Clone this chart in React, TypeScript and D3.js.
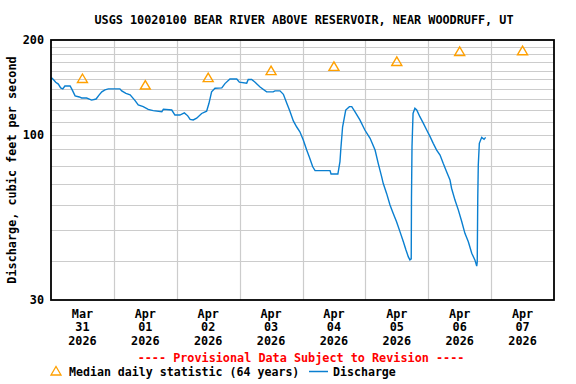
import React from "react";
import * as d3 from "d3";

const TITLE = "USGS 10020100 BEAR RIVER ABOVE RESERVOIR, NEAR WOODRUFF, UT";
const Y_TITLE = "Discharge, cubic feet per second";
const PROVISIONAL = "---- Provisional Data Subject to Revision ----";
const LEGEND_MEDIAN = "Median daily statistic (64 years)";
const LEGEND_Q = "Discharge";

// x-axis categories (one per day, labels centered at noon)
const dayMonths = ["Mar", "Apr", "Apr", "Apr", "Apr", "Apr", "Apr", "Apr"];
const dayNums = ["31", "01", "02", "03", "04", "05", "06", "07"];
const dayYears = ["2026", "2026", "2026", "2026", "2026", "2026", "2026", "2026"];

// y-axis labelled ticks and grid values
const yTickLabels = [200, 100, 30];
const yGridValues = [40, 50, 60, 70, 80, 90, 100, 110, 120, 130, 140, 150, 160, 170, 180, 190];

// median daily statistic, one per day
const medianValues = [151, 144, 152, 160, 165, 171, 184, 185];

// discharge: hours since Mar 31 00:00, and cfs
const qHours = [
  0.1, 0.9, 1.8, 2.8, 3.7, 4.5, 5.3, 7.3, 8.1, 9.2, 10.8, 11.7, 13.6, 15.5, 17.2, 18.4, 19.4, 20.6, 21.9, 26.3,
  27.0, 28.6, 30.2, 32.1, 33.3, 35.2, 37.1, 39.0, 42.3, 42.9, 46.1, 47.3, 49.2, 50.9, 52.2, 53.1, 54.3, 55.6,
  57.5, 59.4, 60.3, 61.3, 62.6, 65.2, 66.4, 68.3, 70.9, 71.9, 74.7, 75.3, 76.6, 77.9, 79.8, 82.3, 84.8, 85.5,
  87.4, 88.7, 90.0, 91.2, 92.5, 93.8, 95.0, 96.3, 97.6, 98.6, 99.9, 100.8, 106.5, 106.9, 109.5, 110.3, 110.6,
  111.3, 112.5, 113.9, 114.8, 116.0, 117.9, 119.8, 121.8, 123.7, 124.9, 126.2, 126.8, 128.1, 129.4, 130.6,
  131.9, 133.2, 134.5, 135.5, 136.4, 137.0, 137.5, 137.6, 137.8, 138.2, 138.9, 139.6, 140.8, 142.1, 143.4,
  144.7, 145.9, 147.2, 148.5, 149.7, 151.0, 152.3, 152.9, 154.2, 155.5, 156.8, 158.0, 159.3, 160.6, 161.8,
  162.5, 162.7, 162.9, 163.1, 163.5, 164.4, 165.3, 165.9,
];
const qValues = [
  152, 150, 147, 145, 141, 140, 143, 143, 139, 133, 132, 131, 131, 129, 130, 134, 137, 139, 140, 140,
  138, 135.5, 134, 128.5, 124.5, 123, 120.6, 119.5, 118.5, 120.6, 120, 115.7, 115.7, 117.5, 115, 112, 111.6, 113,
  117, 119, 126, 137, 140.6, 141, 145.5, 150.5, 150.5, 147, 146, 150, 150, 147, 142, 137, 137, 138,
  138, 134.5, 126, 119, 110.8, 106, 102.4, 96.4, 89.6, 85.2, 79.3, 77.1, 77.1, 75.2, 75.2, 82.3, 89.6,
  106, 120, 123, 123, 118.5, 111.6, 103.7, 97.6, 89.6, 81.3, 73.8, 70.3, 65.3, 60, 56.5,
  53.1, 49.4, 45.9, 43.2, 41.1, 40.2, 40.5, 63, 91.8, 117, 121.5, 120, 114.3, 109, 103.7,
  98.8, 94.1, 89.6, 86.4, 81.3, 76.5, 72, 67.8, 62.2, 57.8, 53.1, 48.8, 45.9, 42.2, 40.2,
  38.4, 39.6, 63, 80.3, 94.1, 98.3, 96.9, 98.3,
];

const W = 576;
const H = 384;
const M = { left: 51, right: 554, top: 40, bottom: 300 };
const FONT = "'DejaVu Sans Mono', 'Liberation Mono', monospace";
const BLUE = "#0a7fd0";
const ORANGE = "#ffa000";

export default function App() {
  const x = d3.scaleLinear().domain([0, 192]).range([M.left, M.right]);
  const y = d3.scaleLog().domain([30, 200]).range([M.bottom, M.top]);

  const pts = qHours.map((h, i) => [h, qValues[i]] as [number, number]);
  const line = d3
    .line<[number, number]>()
    .x((d) => x(d[0]))
    .y((d) => y(d[1]))
    .curve(d3.curveLinear);

  const dayBounds = d3.range(1, 8).map((d) => d * 24);
  const tri = (cx: number, cy: number) =>
    `M${cx - 5},${cy + 4}L${cx},${cy - 4.5}L${cx + 5},${cy + 4}Z`;

  return (
    <svg width={W} height={H} style={{ display: "block", position: "absolute", left: 0, top: 0 }}>
      <rect x={0} y={0} width={W} height={H} fill="#fff" />
      <text x={304} y={24} textAnchor="middle" fontFamily={FONT} fontWeight="bold" fontSize={11.8} fill="#000">
        {TITLE}
      </text>

      {/* horizontal grid */}
      {yGridValues.map((v) => (
        <line key={"h" + v} x1={M.left} x2={M.right} y1={Math.round(y(v)) + 0.5} y2={Math.round(y(v)) + 0.5} stroke="#cccccc" strokeWidth={1.2} />
      ))}
      {/* vertical grid */}
      {dayBounds.map((h) => (
        <line key={"v" + h} x1={Math.round(x(h)) + 0.5} x2={Math.round(x(h)) + 0.5} y1={M.top} y2={M.bottom} stroke="#cccccc" strokeWidth={1.2} />
      ))}

      {/* median triangles */}
      {medianValues.map((v, i) => (
        <path key={"m" + i} d={tri(x(i * 24 + 12), y(v))} fill="none" stroke={ORANGE} strokeWidth={1.4} />
      ))}

      {/* discharge */}
      <path d={line(pts) || ""} fill="none" stroke={BLUE} strokeWidth={1.4} strokeLinejoin="miter" />

      {/* frame */}
      <rect x={M.left} y={M.top} width={M.right - M.left} height={M.bottom - M.top} fill="none" stroke="#000" strokeWidth={1.8} />

      {/* y labels */}
      {yTickLabels.map((v) => (
        <text key={"yl" + v} x={44} y={y(v) + 4} textAnchor="end" fontFamily={FONT} fontWeight="bold" fontSize={11.8} fill="#000">
          {v}
        </text>
      ))}
      <text
        transform={`translate(16,${(M.top + M.bottom) / 2}) rotate(-90)`}
        textAnchor="middle"
        fontFamily={FONT}
        fontWeight="bold"
        fontSize={11.8}
        fill="#000"
      >
        {Y_TITLE}
      </text>

      {/* x labels */}
      {dayMonths.map((m, i) => {
        const cx = x(i * 24 + 12);
        return (
          <g key={"xl" + i} fontFamily={FONT} fontWeight="bold" fontSize={11.8} fill="#000" textAnchor="middle">
            <text x={cx} y={318}>{m}</text>
            <text x={cx} y={331}>{dayNums[i]}</text>
            <text x={cx} y={345}>{dayYears[i]}</text>
          </g>
        );
      })}

      <text x={301} y={362} textAnchor="middle" fontFamily={FONT} fontWeight="bold" fontSize={11.8} fill="#ff0000">
        {PROVISIONAL}
      </text>

      {/* legend */}
      <path d={tri(56, 371)} fill="none" stroke={ORANGE} strokeWidth={1.3} />
      <text x={69} y={376} fontFamily={FONT} fontWeight="bold" fontSize={11.6} fill="#000">
        {LEGEND_MEDIAN}
      </text>
      <line x1={309} x2={328} y1={371.5} y2={371.5} stroke={BLUE} strokeWidth={1.5} />
      <text x={333} y={376} fontFamily={FONT} fontWeight="bold" fontSize={11.6} fill="#000">
        {LEGEND_Q}
      </text>
    </svg>
  );
}
